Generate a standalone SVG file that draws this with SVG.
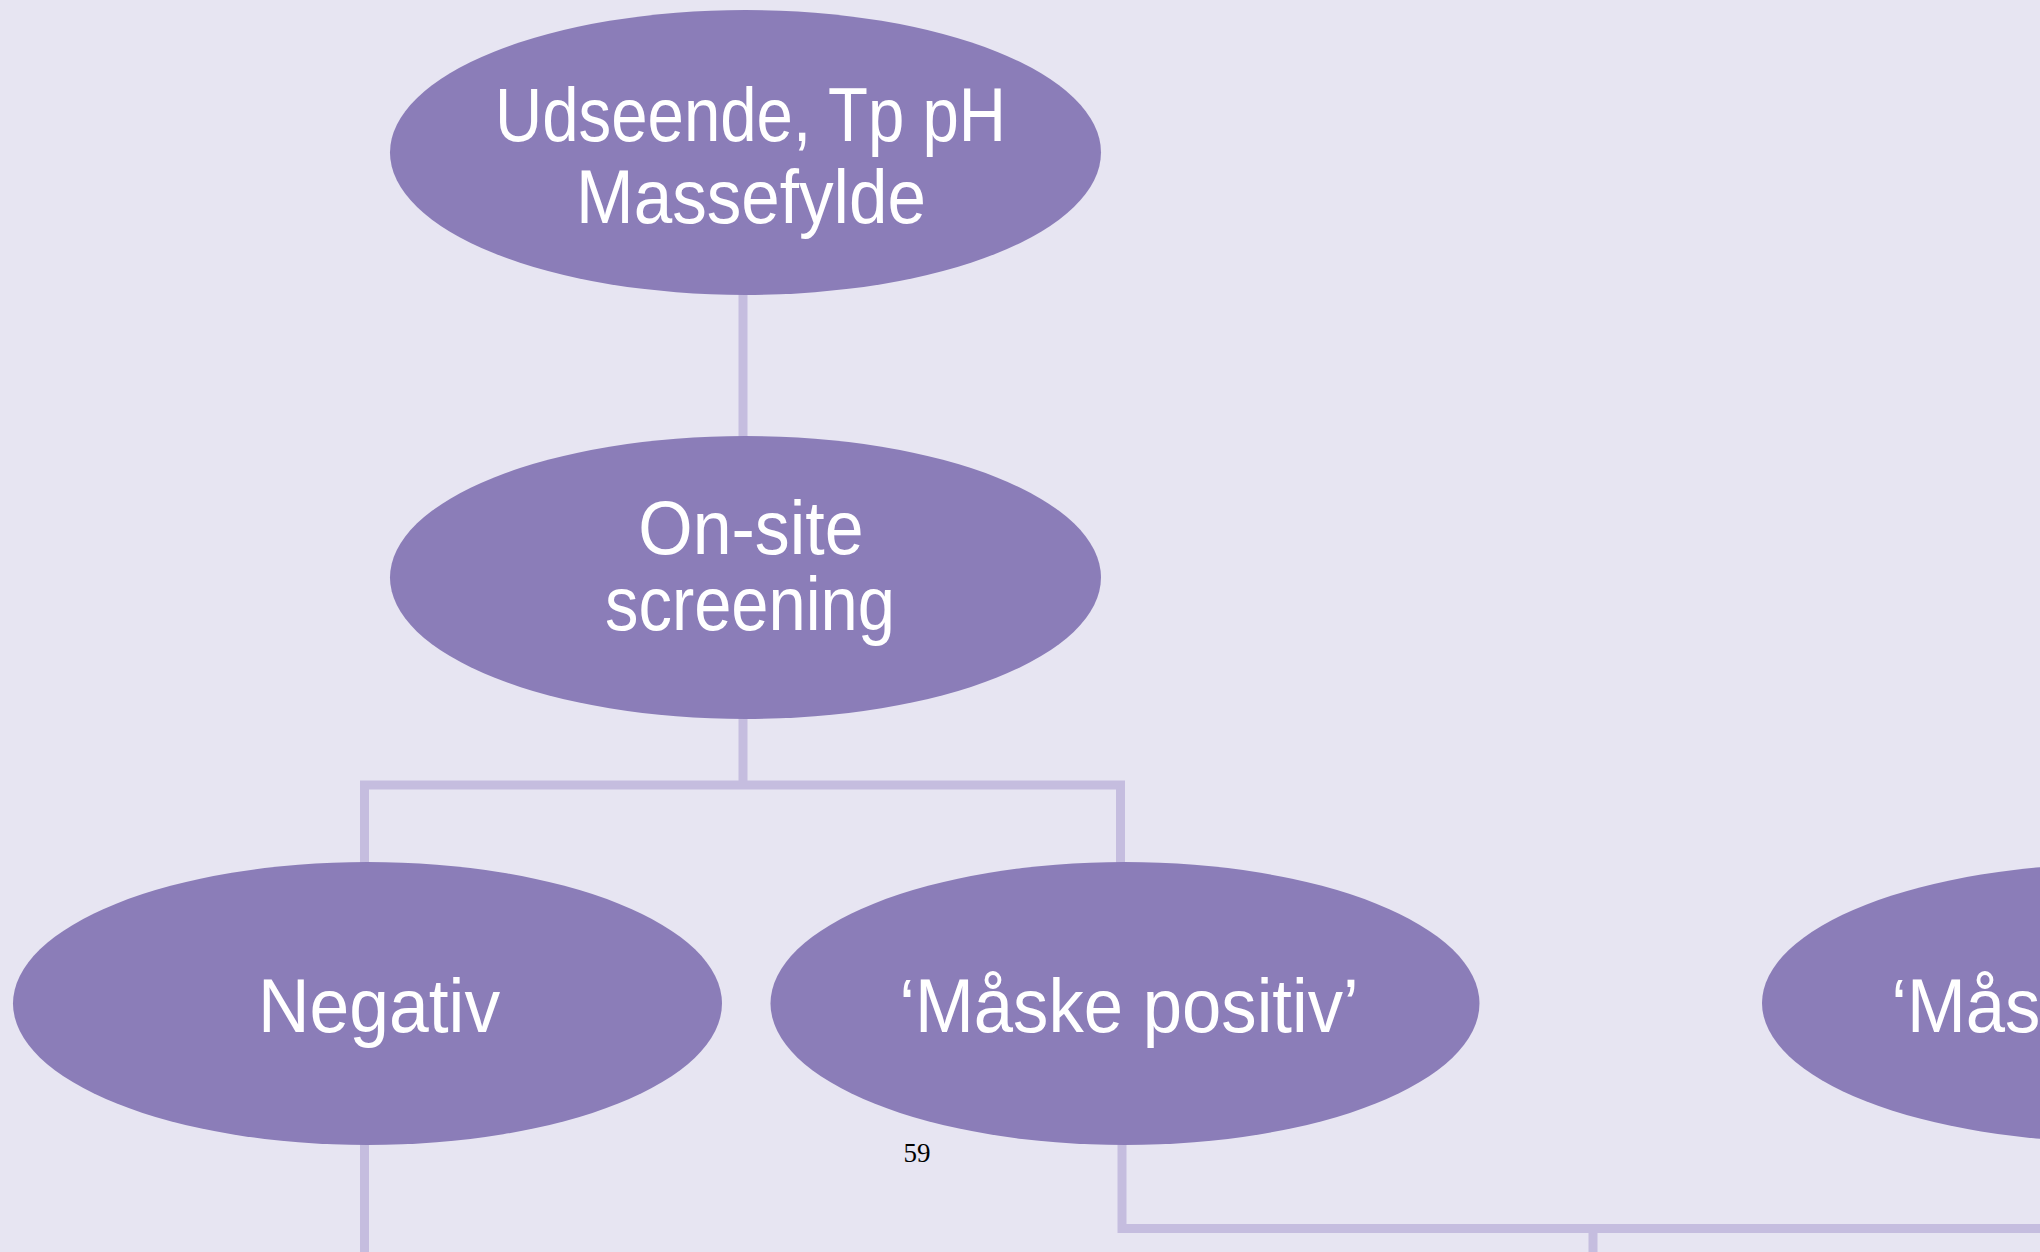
<svg xmlns="http://www.w3.org/2000/svg" width="2040" height="1252" viewBox="0 0 2040 1252">
<style>
.bg{fill:#E7E5F2}
.node{fill:#8B7DB8}
.lbl{font-family:"Liberation Sans",Arial,sans-serif;font-size:76px;fill:#FFFFFF;text-anchor:middle}
.conn{fill:none;stroke:#C5BDDF;stroke-width:9;stroke-linecap:butt;stroke-linejoin:miter}
.page{font-family:"Liberation Serif","Times New Roman",serif;font-size:27px;fill:#000000;text-anchor:middle}
</style>
<rect class="bg" x="0" y="0" width="2040" height="1252"/>
<g id="connectors">
<path class="conn" d="M743,290 V440"/>
<path class="conn" d="M743,715 V785"/>
<path class="conn" d="M364.5,866 V785 H1120.5 V866"/>
<path class="conn" d="M364.5,1140 V1252"/>
<path class="conn" d="M1122,1140 V1228.5 H2040"/>
<path class="conn" d="M1593,1228.5 V1252"/>
</g>
<g id="node-udseende">
<ellipse class="node" cx="745.5" cy="152.5" rx="355.5" ry="142.5"/>
<text class="lbl" transform="translate(750.5 0) scale(0.86 1)" x="0" y="140.7">Udseende, Tp pH</text>
<text class="lbl" transform="translate(751 0) scale(0.91 1)" x="0" y="222.7">Massefylde</text>
</g>
<g id="node-onsite">
<ellipse class="node" cx="745.5" cy="577.5" rx="355.5" ry="141.5"/>
<text class="lbl" transform="translate(751 0) scale(0.92 1)" x="0" y="554">On-site</text>
<text class="lbl" transform="translate(750 0) scale(0.88 1)" x="0" y="630">screening</text>
</g>
<g id="node-negativ">
<ellipse class="node" cx="367.5" cy="1003.5" rx="354.5" ry="141.5"/>
<text class="lbl" transform="translate(379 0) scale(0.94 1)" x="0" y="1032">Negativ</text>
</g>
<g id="node-maaske1">
<ellipse class="node" cx="1125" cy="1003.5" rx="354.5" ry="141.5"/>
<text class="lbl" transform="translate(1129 0) scale(0.93 1)" x="0" y="1032">‘Måske positiv’</text>
</g>
<g id="node-maaske2">
<ellipse class="node" cx="2117" cy="1003" rx="355" ry="139"/>
<text class="lbl" transform="translate(2121 0) scale(0.93 1)" x="0" y="1032">‘Måske positiv’</text>
</g>
<text class="page" x="917" y="1162">59</text>
</svg>
